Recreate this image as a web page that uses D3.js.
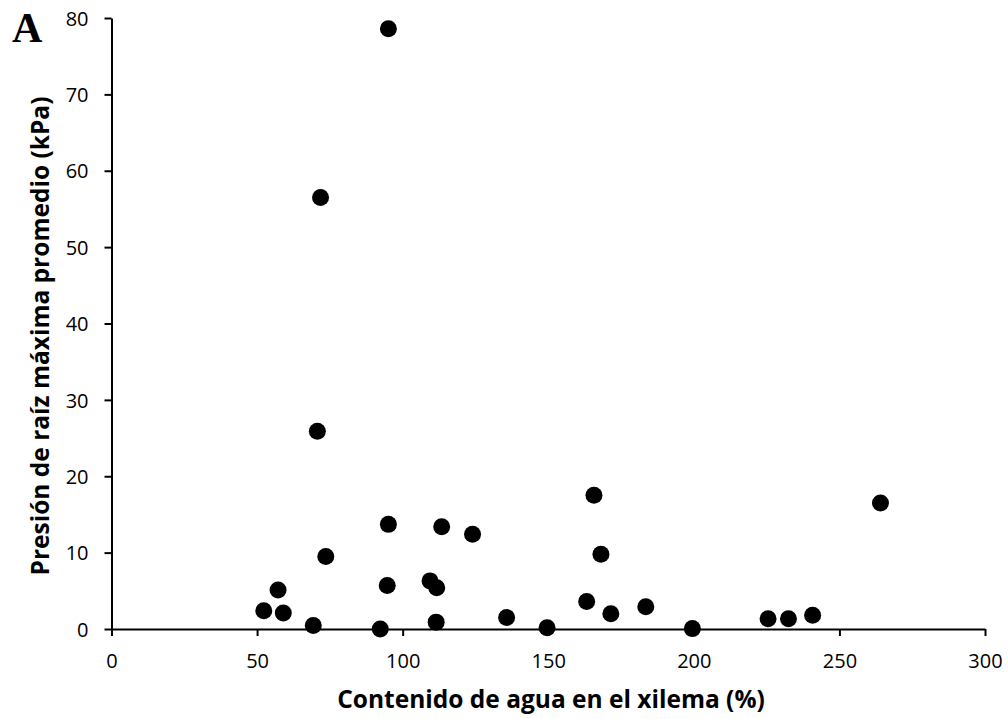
<!DOCTYPE html>
<html>
<head>
<meta charset="utf-8">
<script src="https://cdn.jsdelivr.net/npm/d3@7"></script>
<style>
  html, body { margin: 0; padding: 0; background: #fff; }
  svg { display: block; }
  .tick text { font-family: "Open Sans", sans-serif; font-size: 20px; fill: #000; }
  .axis-title { font-family: "Open Sans", sans-serif; font-weight: bold; font-size: 24.5px; }
</style>
</head>
<body>
<svg id="chart"></svg>
<script>
// Contenido de agua en el xilema (%)
const waterContent = [95.1, 71.8, 70.7, 165.7, 264.1, 95.1, 113.4, 124.0, 168.1, 73.6,
                      109.4, 94.7, 111.7, 57.2, 163.2, 183.5, 52.3, 59.0, 171.5, 240.8,
                      135.7, 225.5, 232.5, 111.5, 69.3, 149.6, 92.3, 199.5];
// Presión de raíz máxima promedio (kPa)
const rootPressure = [78.6, 56.5, 25.9, 17.5, 16.5, 13.7, 13.4, 12.4, 9.8, 9.5,
                      6.3, 5.7, 5.4, 5.1, 3.6, 2.9, 2.4, 2.1, 2.0, 1.8,
                      1.5, 1.35, 1.35, 0.9, 0.45, 0.15, 0.0, 0.05];
const xTicks = [0, 50, 100, 150, 200, 250, 300];
const yTicks = [0, 10, 20, 30, 40, 50, 60, 70, 80];

document.addEventListener('DOMContentLoaded', function() {
  const W = 1008, H = 719;
  const margin = { top: 18, right: 23, bottom: 90, left: 111.5 };
  const width = W - margin.left - margin.right,
        height = H - margin.top - margin.bottom;

  const svg = d3.select("#chart").attr("width", W).attr("height", H);
  const g = svg.append("g")
      .attr("transform", "translate(" + margin.left + "," + margin.top + ")");

  const x = d3.scaleLinear().domain([0, 300]).range([0, width]);
  const y = d3.scaleLinear().domain([0, 80]).range([height, 0]);

  // axes
  const xAxis = g.append("g")
      .attr("transform", "translate(0," + height + ")")
      .call(d3.axisBottom(x).tickValues(xTicks).tickSize(7).tickPadding(18).tickSizeOuter(0));
  const yAxis = g.append("g")
      .call(d3.axisLeft(y).tickValues(yTicks).tickSize(7).tickPadding(16).tickSizeOuter(0));

  [xAxis, yAxis].forEach(a => {
    a.select(".domain").attr("stroke", "#000").attr("stroke-width", 2);
    a.selectAll(".tick line").attr("stroke", "#000").attr("stroke-width", 2);
  });
  xAxis.selectAll(".tick text").attr("dy", "0.71em");
  yAxis.selectAll(".tick text").attr("dy", "0.36em");

  // points
  const data = waterContent.map((v, i) => ({ x: v, y: rootPressure[i] }));
  g.selectAll(".dot")
      .data(data)
      .enter().append("circle")
      .attr("class", "dot")
      .attr("cx", d => x(d.x))
      .attr("cy", d => y(d.y))
      .attr("r", 8.5)
      .attr("fill", "#000");

  // axis titles
  svg.append("text")
      .attr("class", "axis-title")
      .attr("x", 551)
      .attr("y", 708)
      .attr("text-anchor", "middle")
      .text("Contenido de agua en el xilema (%)");

  svg.append("text")
      .attr("class", "axis-title")
      .attr("transform", "translate(49,336) rotate(-90)")
      .attr("text-anchor", "middle")
      .text("Presión de raíz máxima promedio (kPa)");

  // panel letter
  svg.append("text")
      .attr("x", 12)
      .attr("y", 42)
      .attr("font-family", "'Liberation Serif', 'Times New Roman', serif")
      .attr("font-weight", "bold")
      .attr("font-size", 42)
      .text("A");
});
</script>
</body>
</html>
